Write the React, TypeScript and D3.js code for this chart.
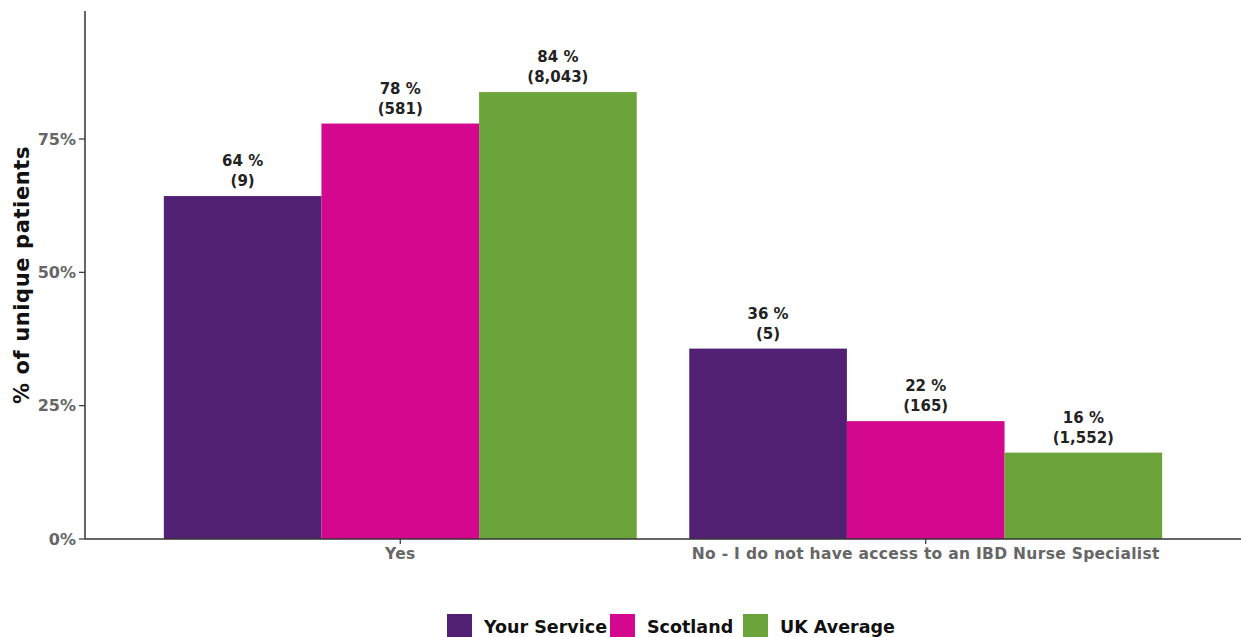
import React from "react";
import * as d3 from "d3";

const categories = ["Yes", "No - I do not have access to an IBD Nurse Specialist"];
const seriesNames = ["Your Service", "Scotland", "UK Average"];
const seriesColors = ["#522072", "#D4078F", "#6BA43A"];
const pctYourService = [0.643, 0.357];
const pctScotland = [0.779, 0.221];
const pctUK = [0.838, 0.162];
const countYourService = [9, 5];
const countScotland = [581, 165];
const countUK = [8043, 1552];
const yTicks = [0, 0.25, 0.5, 0.75];

const W = 1241, H = 637;
const M = { left: 85, top: 11, right: 0, bottom: 98 };
const FONT = "'DejaVu Sans', sans-serif";

export default function App() {
  const values = [pctYourService, pctScotland, pctUK];
  const counts = [countYourService, countScotland, countUK];
  const x = d3.scaleBand<string>().domain(categories).range([M.left, W - M.right]).paddingInner(0.1).paddingOuter(0.15);
  const xs = d3.scaleBand<string>().domain(seriesNames).range([0, x.bandwidth()]);
  const y = d3.scaleLinear().domain([0, 0.99]).range([H - M.bottom, M.top]);
  const fmt = d3.format(",");
  const y0 = y(0);
  return (
    <svg width={W} height={H} style={{ position: "absolute", left: 0, top: 0, background: "#fff" }} fontFamily={FONT}>
      {categories.map((c, ci) =>
        seriesNames.map((s, si) => {
          const bx = (x(c) as number) + (xs(s) as number);
          const v = values[si][ci];
          const by = y(v);
          const cx = bx + xs.bandwidth() / 2;
          return (
            <g key={c + s}>
              <rect x={bx} y={by} width={xs.bandwidth()} height={y0 - by} fill={seriesColors[si]} />
              <text x={cx} y={by - 30} textAnchor="middle" fontSize={15} fontWeight="bold" fill="#222">
                {Math.round(v * 100) + " %"}
              </text>
              <text x={cx} y={by - 10} textAnchor="middle" fontSize={15} fontWeight="bold" fill="#222">
                {"(" + fmt(counts[si][ci]) + ")"}
              </text>
            </g>
          );
        })
      )}
      <line x1={M.left} x2={M.left} y1={M.top} y2={y0} stroke="#333" strokeWidth={1.5} />
      <line x1={M.left} x2={W} y1={y0} y2={y0} stroke="#333" strokeWidth={1.5} />
      {yTicks.map((t) => (
        <g key={t}>
          <line x1={M.left - 6} x2={M.left} y1={y(t)} y2={y(t)} stroke="#333" strokeWidth={1.2} />
          <text x={M.left - 9} y={y(t)} dy="0.36em" textAnchor="end" fontSize={16} fontWeight="bold" fill="#666">
            {d3.format(".0%")(t)}
          </text>
        </g>
      ))}
      {categories.map((c) => {
        const cx = (x(c) as number) + x.bandwidth() / 2;
        return (
          <g key={c}>
            <line x1={cx} x2={cx} y1={y0} y2={y0 + 5} stroke="#333" strokeWidth={1.2} />
            <text x={cx} y={y0 + 20} textAnchor="middle" fontSize={15.5} letterSpacing={0.3} fontWeight="bold" fill="#666">
              {c}
            </text>
          </g>
        );
      })}
      <text transform={`translate(29,${(M.top + y0) / 2}) rotate(-90)`} textAnchor="middle" fontSize={21} letterSpacing={0.6} fontWeight="bold" fill="#111">
        % of unique patients
      </text>
      {(() => {
        const starts = [447, 610, 743];
        return seriesNames.map((s, i) => (
          <g key={s}>
            <rect x={starts[i]} y={614} width={25} height={25} fill={seriesColors[i]} />
            <text x={starts[i] + 37} y={633} fontSize={17.5} fontWeight="bold" fill="#111">{s}</text>
          </g>
        ));
      })()}
    </svg>
  );
}
